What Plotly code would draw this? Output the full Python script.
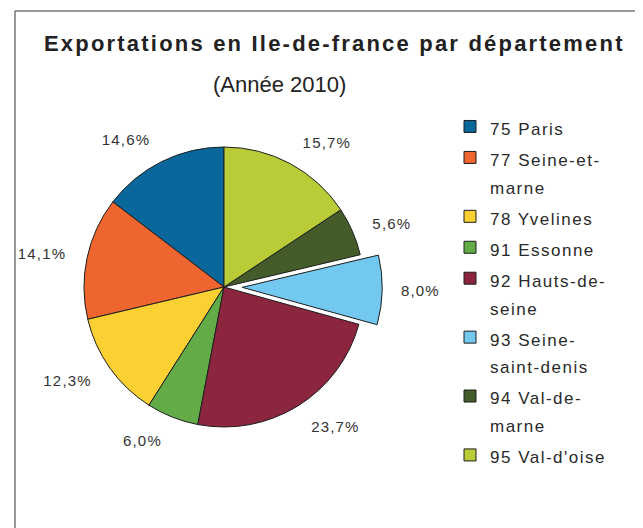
import plotly.graph_objects as go

departements = ["75 Paris", "77 Seine-et-|marne", "78 Yvelines", "91 Essonne",
                "92 Hauts-de-|seine", "93 Seine-|saint-denis", "94 Val-de-|marne",
                "95 Val-d'oise"]
parts = [14.6, 14.1, 12.3, 6.0, 23.7, 8.0, 5.6, 15.7]
colors = ["#0a679b", "#ee6530", "#fad033", "#62ab46",
          "#8b263e", "#72c8ee", "#445c2a", "#b9cc38"]
pulls = [0, 0, 0, 0, 0, 0.13, 0, 0]
label_pulls = [0, 0, 0, 0, 0, 0.10, 0, 0]

title = "Exportations en Ile-de-france par département"
subtitle = "(Année 2010)"

# page body has an 8px margin: the figure is sized to fill the rest of the window
W, H, OFF = 635, 520, 8


def px_x(x):
    return (x - OFF) / W


def px_y(y):
    return 1 - (y - OFF) / H


def legend_label(s):
    return "<br>".join("<span style='font-size:17px;letter-spacing:1.5px'>%s</span>" % p
                       for p in s.split("|"))


labels = [legend_label(d) for d in departements]
start_rot = -360 * parts[0] / sum(parts)

# main pie: centre (224, 287), radius 140 in window pixels
half_main = 140 * (1 + max(pulls))
main_dom = dict(x=[px_x(224 - half_main), px_x(224 + half_main)],
                y=[px_y(287 + half_main), px_y(287 - half_main)])
# transparent pie (radius 157) carrying the percentage labels outside the pie
half_lab = 157 * (1 + max(label_pulls))
lab_dom = dict(x=[px_x(224 - half_lab), px_x(224 + half_lab)],
               y=[px_y(287 + half_lab), px_y(287 - half_lab)])

fig = go.Figure()
fig.add_trace(go.Pie(
    labels=labels,
    values=parts,
    sort=False,
    direction="counterclockwise",
    rotation=start_rot,
    pull=label_pulls,
    showlegend=False,
    marker=dict(colors=["rgba(0,0,0,0)"] * len(parts), line=dict(width=0)),
    textposition="outside",
    texttemplate="<span style='letter-spacing:1.2px'>%{percent:.1%}</span>",
    outsidetextfont=dict(family="Liberation Sans, Arial", size=15, color="#333333"),
    domain=lab_dom,
    hoverinfo="skip",
))
fig.add_trace(go.Pie(
    labels=labels,
    values=parts,
    sort=False,
    direction="counterclockwise",
    rotation=start_rot,
    pull=pulls,
    marker=dict(colors=colors, line=dict(color="#1e1e1e", width=1)),
    textinfo="none",
    domain=main_dom,
    hoverinfo="label+percent",
))

fig.update_layout(
    width=W, height=H,
    margin=dict(l=0, r=0, t=0, b=0, autoexpand=False),
    paper_bgcolor="white",
    plot_bgcolor="white",
    separators=", ",
    font=dict(family="Liberation Sans, Arial", color="#333333"),
    showlegend=True,
    legend=dict(
        x=px_x(450), xanchor="left", y=px_y(106), yanchor="top",
        font=dict(family="Liberation Sans, Arial", size=21.5, color="#2a2a2a"),
        valign="top",
        bgcolor="rgba(0,0,0,0)",
    ),
    annotations=[
        dict(text="<b><span style='letter-spacing:2.2px'>%s</span></b>" % title,
             x=px_x(335), y=px_y(44), xref="paper", yref="paper",
             xanchor="center", yanchor="middle", showarrow=False,
             font=dict(family="Liberation Sans, Arial", size=22, color="#222222")),
        dict(text=subtitle,
             x=px_x(279), y=px_y(84), xref="paper", yref="paper",
             xanchor="center", yanchor="middle", showarrow=False,
             font=dict(family="Liberation Sans, Arial", size=22, color="#222222")),
    ],
    shapes=[
        dict(type="line", xref="paper", yref="paper",
             x0=px_x(15), x1=px_x(639), y0=px_y(11), y1=px_y(11),
             line=dict(color="#333333", width=1)),
        dict(type="line", xref="paper", yref="paper",
             x0=px_x(15), x1=px_x(15), y0=px_y(11), y1=-0.05,
             line=dict(color="#333333", width=1)),
        dict(type="line", xref="paper", yref="paper",
             x0=px_x(639.5), x1=px_x(639.5), y0=px_y(11), y1=-0.05,
             line=dict(color="#999999", width=2)),
    ],
)

fig.write_html("out.html")
